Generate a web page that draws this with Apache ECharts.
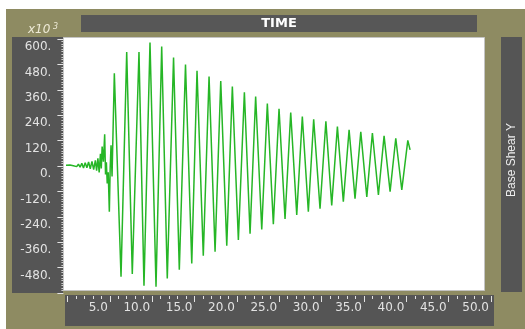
<!DOCTYPE html>
<html>
<head>
<meta charset="utf-8">
<script src="https://cdn.jsdelivr.net/npm/echarts@6/dist/echarts.min.js"></script>
<style>
  html, body { margin: 0; padding: 0; background: #ffffff; }
  #chart { width: 525px; height: 329px; }
</style>
</head>
<body>
<div id="chart"></div>
<script>
// Base shear time history (time in s, shear in x10^3)
const timeSec = [
  -0.3, 0.3, 0.7, 0.9, 1.1, 1.3, 1.5, 1.7, 1.9, 2.1, 2.3, 2.5, 2.7, 2.9, 3.1, 3.3,
  3.45, 3.6, 3.75, 3.9, 4.0, 4.1, 4.25, 4.4, 4.5, 4.6, 4.7, 4.82, 4.95, 5.05, 5.15, 5.27,
  5.54, 6.33, 7.00, 7.66, 8.45, 9.04, 9.75, 10.46, 11.13, 11.79, 12.53, 13.21, 13.94, 14.68,
  15.30, 16.04, 16.72, 17.43, 18.10, 18.81, 19.47, 20.18, 20.89, 21.56, 22.22, 22.94, 23.60,
  24.31, 24.98, 25.69, 26.36, 27.07, 27.73, 28.44, 29.07, 29.82, 30.51, 31.20, 31.87, 32.57,
  33.25, 33.95, 34.63, 35.34, 36.00, 36.71, 37.38, 38.09, 38.76, 39.47, 40.18, 40.45
];
const baseShear = [
  3, 5, 1, 7, -3, 9, -6, 13, -9, 16, -8, 19, -13, 22, -17, 27,
  -22, 36, -30, 58, -12, 92, 20, 150, -40, 18, -82, -30, -216, -10, 98, -50,
  438, -523, 538, -510, 538, -566, 583, -570, 565, -531, 512, -490, 480, -460,
  450, -424, 423, -405, 401, -377, 375, -350, 348, -320, 328, -300, 295,
  -275, 270, -250, 253, -231, 234, -216, 221, -202, 211, -186, 186, -169,
  171, -154, 162, -146, 156, -137, 142, -121, 131, -113, 121, 76
];

const xTitle = 'TIME';
const yTitle = 'Base Shear Y';
const yScaleText = 'x10';
const yScaleExp = '3';

const OLIVE = '#8e8b62';
const PANEL = '#555555';
const LABEL = '#e2e2e2';
const LINE = '#26b626';
const NUM_FONT = 'DejaVu Sans, sans-serif';

const points = timeSec.map((t, i) => [t, baseShear[i]]);

const chart = echarts.init(document.getElementById('chart'), null, { renderer: 'canvas' });

chart.setOption({
  animation: false,
  backgroundColor: '#ffffff',
  graphic: [
    { type: 'rect', z: -100, silent: true, shape: { x: 6, y: 9, width: 519, height: 320 }, style: { fill: OLIVE } },
    { type: 'rect', z: -99, silent: true, shape: { x: 81, y: 15, width: 396, height: 17 }, style: { fill: '#575757' } },
    { type: 'rect', z: -99, silent: true, shape: { x: 12, y: 37, width: 51, height: 256 }, style: { fill: PANEL } },
    { type: 'rect', z: -99, silent: true, shape: { x: 63.5, y: 37.5, width: 421, height: 253 }, style: { fill: '#ffffff', stroke: '#c4c4c4', lineWidth: 1 } },
    { type: 'rect', z: -99, silent: true, shape: { x: 65, y: 295, width: 429, height: 31 }, style: { fill: PANEL } },
    { type: 'rect', z: -99, silent: true, shape: { x: 501, y: 37, width: 21, height: 255 }, style: { fill: PANEL } },
    { type: 'text', z: 100, silent: true, x: 279, y: 24,
      style: { text: xTitle, fill: '#ffffff', font: 'bold 13px DejaVu Sans, sans-serif', align: 'center', verticalAlign: 'middle' } },
    // vertical series title, reading bottom to top
    { type: 'text', z: 100, silent: true, x: 512, y: 160, rotation: Math.PI / 2,
      style: { text: yTitle, fill: '#eeeeee', font: '12px Liberation Sans, Arial, sans-serif', align: 'center', verticalAlign: 'middle' } },
    { type: 'text', z: 100, silent: true, x: 28, y: 36,
      style: { text: yScaleText, fill: '#eeead6', font: 'italic 12px DejaVu Sans, sans-serif', align: 'left', verticalAlign: 'bottom' } },
    { type: 'text', z: 100, silent: true, x: 53, y: 31,
      style: { text: yScaleExp, fill: '#eeead6', font: 'italic 8px DejaVu Sans, sans-serif', align: 'left', verticalAlign: 'bottom' } }
  ],
  grid: { left: 67.4, right: 34, top: 39, bottom: 36 },
  xAxis: {
    type: 'value',
    position: 'bottom',
    min: 0,
    max: 50,
    interval: 5,
    offset: 3,
    axisLine: { show: false, onZero: false },
    axisTick: { show: true, inside: false, length: 6, lineStyle: { color: LABEL, width: 1 } },
    minorTick: { show: true, splitNumber: 5, length: 3, lineStyle: { color: LABEL, width: 1 } },
    splitLine: { show: false },
    axisLabel: {
      color: LABEL,
      fontFamily: NUM_FONT,
      fontSize: 12,
      align: 'right',
      margin: 6,
      padding: [0, 2, 0, 0],
      formatter: v => (v === 0 ? '' : v.toFixed(1))
    }
  },
  yAxis: {
    type: 'value',
    position: 'left',
    min: -600,
    max: 600,
    interval: 120,
    offset: 4,
    axisLine: { show: false, onZero: false },
    axisTick: { show: true, inside: false, length: 6, lineStyle: { color: LABEL, width: 1 } },
    minorTick: { show: true, splitNumber: 10, length: 2, lineStyle: { color: '#cfcfcf', width: 1 } },
    splitLine: { show: false },
    axisLabel: {
      color: LABEL,
      fontFamily: NUM_FONT,
      fontSize: 12,
      margin: 12,
      verticalAlign: 'top',
      padding: [2, 0, 0, 0],
      formatter: v => (v === -600 ? '' : v + '.')
    }
  },
  series: [{
    type: 'line',
    data: points,
    showSymbol: false,
    clip: false,
    lineStyle: { color: LINE, width: 1.5 },
    itemStyle: { color: LINE }
  }]
});
</script>
</body>
</html>
